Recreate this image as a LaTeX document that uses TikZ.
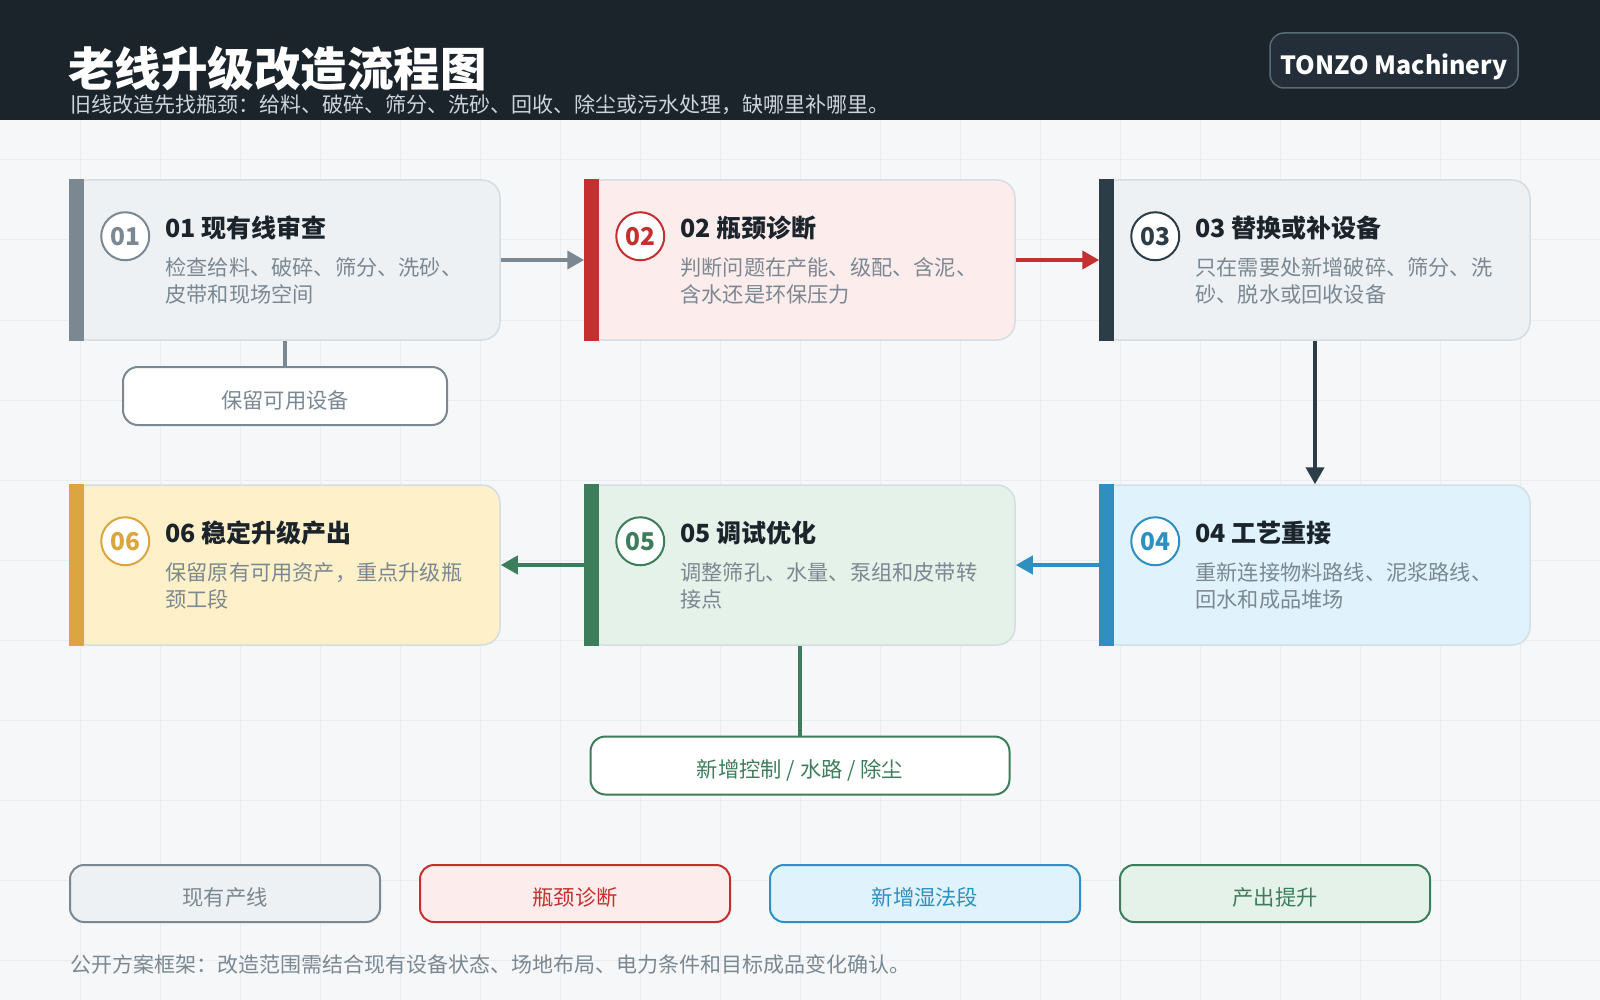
\documentclass[tikz,border=0pt]{standalone}
\usepackage{fontspec}
\setmainfont{Noto Sans CJK SC}
\usetikzlibrary{arrows.meta}
\definecolor{hdr}{HTML}{1B232B}
\definecolor{bgc}{HTML}{F5F7F9}
\definecolor{gridc}{HTML}{E9EDF0}
\definecolor{subt}{HTML}{CDD4DA}
\definecolor{gry}{HTML}{7B8891}
\definecolor{gryfill}{HTML}{EDF1F4}
\definecolor{cardline}{HTML}{D5DDE2}
\definecolor{redc}{HTML}{C3302F}
\definecolor{redfill}{HTML}{FDECEC}
\definecolor{darkc}{HTML}{2D3D48}
\definecolor{bluec}{HTML}{2E8FC0}
\definecolor{bluefill}{HTML}{E0F3FD}
\definecolor{greenc}{HTML}{3E7D5B}
\definecolor{greenfill}{HTML}{E5F2E9}
\definecolor{goldc}{HTML}{DBA540}
\definecolor{goldfill}{HTML}{FEF0C8}
\definecolor{badgefill}{HTML}{232E38}
\definecolor{badgeline}{HTML}{5A6A75}
\tikzset{
  card/.style={draw=cardline, line width=1.5pt, rounded corners=18pt, minimum width=430pt, minimum height=160pt, inner sep=0pt},
  numcirc/.style={circle, draw=#1, line width=2pt, fill=white, minimum size=48pt, inner sep=0pt, text=#1, font=\bfseries\fontsize{24.5}{25}\selectfont},
  cardtitle/.style={anchor=west, inner sep=0pt, text=hdr, font=\bfseries\fontsize{25}{28}\selectfont},
  carddesc/.style={anchor=north west, inner sep=0pt, align=left, text=gry, font=\fontsize{21.2}{27}\selectfont},
  flow/.style={line width=4pt, draw=#1, -{Triangle[length=17pt,width=18pt]}},
  link/.style={line width=4pt, draw=#1},
  lowtext/.style={text height=24pt, text depth=0pt, font=\fontsize{21.3}{24}\selectfont},
  subbox/.style={draw=#1, line width=2pt, fill=white, rounded corners=15pt, minimum width=324pt, minimum height=58pt, inner sep=0pt, text=#1, lowtext},
  legbox/.style={draw=#1, line width=2pt, rounded corners=14pt, minimum width=310pt, minimum height=57pt, inner sep=0pt, text=#1, lowtext}
}
\newcommand{\mkcard}[8]{%
  % #1 name, #2 center, #3 fill, #4 accent, #5 number, #6 title, #7 line1, #8 line2
  \node[card, fill=#3] (#1) at #2 {};
  \fill[#4] (#1.north west) rectangle ([xshift=15pt]#1.south west);
  \node[numcirc=#4] (#1n) at ([xshift=56pt,yshift=-57pt]#1.north west) {#5};
  \node[cardtitle] (#1t) at ([xshift=96pt,yshift=-49pt]#1.north west) {#5 #6};
  \node[carddesc] (#1d) at ([xshift=96pt,yshift=-78.5pt]#1.north west) {#7\\#8};
}
\begin{document}
\begin{tikzpicture}[x=1pt,y=-1pt]
\useasboundingbox (0,0) rectangle (1600,1000);
% background
\fill[bgc] (0,0) rectangle (1600,1000);
\foreach \gx in {80,160,...,1520} \draw[gridc, line width=1pt] (\gx,120) -- (\gx,1000);
\foreach \gy in {160,240,...,960} \draw[gridc, line width=1pt] (0,\gy) -- (1600,\gy);
% header
\fill[hdr] (0,0) rectangle (1600,120);
\node[anchor=base west, inner sep=0pt, text=white, font=\bfseries\fontsize{46.5}{46}\selectfont] (title) at (68,87) {老线升级改造流程图};
\node[anchor=base west, inner sep=0pt, text=subt, font=\fontsize{21}{24}\selectfont] (subtitle) at (70,113) {旧线改造先找瓶颈：给料、破碎、筛分、洗砂、回收、除尘或污水处理，缺哪里补哪里。};
\node[draw=badgeline, line width=1.5pt, fill=badgefill, rounded corners=14pt, minimum width=248pt, minimum height=55pt, inner sep=0pt] (badge) at (1394,60.5) {};
\node[inner sep=0pt, text=white, font=\bfseries\fontsize{25}{28}\selectfont] (badgetext) at ([yshift=-6.5pt]badge.center) {TONZO Machinery};
% cards
\mkcard{c1}{(285,260)}{gryfill}{gry}{01}{现有线审查}{检查给料、破碎、筛分、洗砂、}{皮带和现场空间}
\mkcard{c2}{(800,260)}{redfill}{redc}{02}{瓶颈诊断}{判断问题在产能、级配、含泥、}{含水还是环保压力}
\mkcard{c3}{(1315,260)}{gryfill}{darkc}{03}{替换或补设备}{只在需要处新增破碎、筛分、洗}{砂、脱水或回收设备}
\mkcard{c4}{(1315,565)}{bluefill}{bluec}{04}{工艺重接}{重新连接物料路线、泥浆路线、}{回水和成品堆场}
\mkcard{c5}{(800,565)}{greenfill}{greenc}{05}{调试优化}{调整筛孔、水量、泵组和皮带转}{接点}
\mkcard{c6}{(285,565)}{goldfill}{goldc}{06}{稳定升级产出}{保留原有可用资产，重点升级瓶}{颈工段}
% flow arrows
\draw[flow=gry] (c1.east) -- (c2.west);
\draw[flow=redc] (c2.east) -- (c3.west);
\draw[flow=darkc] (c3.south) -- (c4.north);
\draw[flow=bluec] (c4.west) -- (c5.east);
\draw[flow=greenc] (c5.west) -- (c6.east);
% side boxes
\node[subbox=gry] (s1) at (285,396) {保留可用设备};
\draw[link=gry] (c1.south) -- (s1.north);
\node[subbox=greenc, minimum width=419pt] (s5) at (800,765.5) {新增控制 / 水路 / 除尘};
\draw[link=greenc] (c5.south) -- (s5.north);
% legend
\node[legbox=gry, fill=gryfill] (l1) at (225,893.5) {现有产线};
\node[legbox=redc, fill=redfill] (l2) at (575,893.5) {瓶颈诊断};
\node[legbox=bluec, fill=bluefill] (l3) at (925,893.5) {新增湿法段};
\node[legbox=greenc, fill=greenfill] (l4) at (1275,893.5) {产出提升};
% footer
\node[anchor=base west, inner sep=0pt, text=gry, font=\fontsize{21}{24}\selectfont] (foot) at (70,972) {公开方案框架：改造范围需结合现有设备状态、场地布局、电力条件和目标成品变化确认。};
\end{tikzpicture}
\end{document}
